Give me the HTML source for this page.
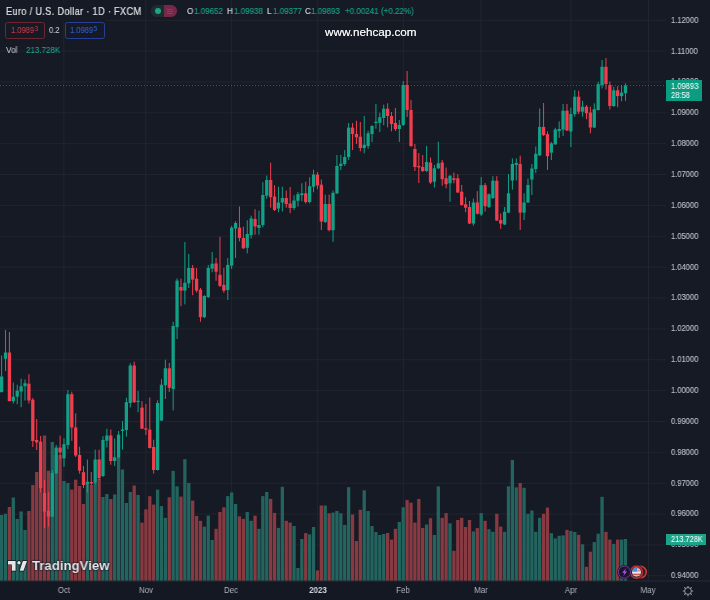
<!DOCTYPE html>
<html><head><meta charset="utf-8">
<style>
html,body{margin:0;padding:0;}
body{width:710px;height:600px;background:#161a25;position:relative;overflow:hidden;font-family:"Liberation Sans",sans-serif;}
.t{position:absolute;white-space:nowrap;line-height:1;transform-origin:0 0;will-change:transform;}
.pa{position:absolute;left:671.3px;font-size:8.8px;color:#c0c3cb;-webkit-text-stroke:0.1px currentColor;line-height:1;white-space:nowrap;transform-origin:0 0;transform:scaleX(0.86);will-change:transform;}
.ta{position:absolute;top:586px;font-size:9px;color:#b2b5be;line-height:1;white-space:nowrap;transform:translateX(-50%) scaleX(0.88);will-change:transform;}
</style></head><body>
<svg width="710" height="600" viewBox="0 0 710 600" style="position:absolute;left:0;top:0">
<rect x="0" y="575.27" width="666" height="1" fill="#21252f"/>
<rect x="0" y="544.41" width="666" height="1" fill="#21252f"/>
<rect x="0" y="513.55" width="666" height="1" fill="#21252f"/>
<rect x="0" y="482.68" width="666" height="1" fill="#21252f"/>
<rect x="0" y="451.82" width="666" height="1" fill="#21252f"/>
<rect x="0" y="420.96" width="666" height="1" fill="#21252f"/>
<rect x="0" y="390.09" width="666" height="1" fill="#21252f"/>
<rect x="0" y="359.23" width="666" height="1" fill="#21252f"/>
<rect x="0" y="328.37" width="666" height="1" fill="#21252f"/>
<rect x="0" y="297.50" width="666" height="1" fill="#21252f"/>
<rect x="0" y="266.64" width="666" height="1" fill="#21252f"/>
<rect x="0" y="235.77" width="666" height="1" fill="#21252f"/>
<rect x="0" y="204.91" width="666" height="1" fill="#21252f"/>
<rect x="0" y="174.05" width="666" height="1" fill="#21252f"/>
<rect x="0" y="143.18" width="666" height="1" fill="#21252f"/>
<rect x="0" y="112.32" width="666" height="1" fill="#21252f"/>
<rect x="0" y="81.46" width="666" height="1" fill="#21252f"/>
<rect x="0" y="50.59" width="666" height="1" fill="#21252f"/>
<rect x="0" y="19.73" width="666" height="1" fill="#21252f"/>
<rect x="63.30" y="0" width="1" height="581" fill="#21252f"/>
<rect x="145.30" y="0" width="1" height="581" fill="#21252f"/>
<rect x="231.10" y="0" width="1" height="581" fill="#21252f"/>
<rect x="317.20" y="0" width="1" height="581" fill="#21252f"/>
<rect x="402.80" y="0" width="1" height="581" fill="#21252f"/>
<rect x="480.50" y="0" width="1" height="581" fill="#21252f"/>
<rect x="570.50" y="0" width="1" height="581" fill="#21252f"/>
<rect x="648.00" y="0" width="1" height="581" fill="#21252f"/>
<rect x="-0.03" y="515.00" width="3.3" height="66.00" fill="#23645f"/>
<rect x="3.87" y="513.80" width="3.3" height="67.20" fill="#23645f"/>
<rect x="7.76" y="507.00" width="3.3" height="74.00" fill="#873a41"/>
<rect x="11.66" y="497.50" width="3.3" height="83.50" fill="#23645f"/>
<rect x="15.56" y="519.00" width="3.3" height="62.00" fill="#23645f"/>
<rect x="19.46" y="511.50" width="3.3" height="69.50" fill="#23645f"/>
<rect x="23.36" y="530.00" width="3.3" height="51.00" fill="#23645f"/>
<rect x="27.26" y="511.00" width="3.3" height="70.00" fill="#873a41"/>
<rect x="31.16" y="485.00" width="3.3" height="96.00" fill="#873a41"/>
<rect x="35.06" y="472.00" width="3.3" height="109.00" fill="#873a41"/>
<rect x="38.96" y="450.00" width="3.3" height="131.00" fill="#873a41"/>
<rect x="42.85" y="435.50" width="3.3" height="145.50" fill="#873a41"/>
<rect x="46.75" y="470.70" width="3.3" height="110.30" fill="#873a41"/>
<rect x="50.65" y="442.00" width="3.3" height="139.00" fill="#23645f"/>
<rect x="54.55" y="455.00" width="3.3" height="126.00" fill="#23645f"/>
<rect x="58.45" y="455.00" width="3.3" height="126.00" fill="#873a41"/>
<rect x="62.35" y="481.00" width="3.3" height="100.00" fill="#23645f"/>
<rect x="66.25" y="483.00" width="3.3" height="98.00" fill="#23645f"/>
<rect x="70.15" y="489.60" width="3.3" height="91.40" fill="#873a41"/>
<rect x="74.05" y="479.70" width="3.3" height="101.30" fill="#873a41"/>
<rect x="77.95" y="486.00" width="3.3" height="95.00" fill="#873a41"/>
<rect x="81.84" y="504.00" width="3.3" height="77.00" fill="#873a41"/>
<rect x="85.74" y="484.00" width="3.3" height="97.00" fill="#23645f"/>
<rect x="89.64" y="485.00" width="3.3" height="96.00" fill="#873a41"/>
<rect x="93.54" y="483.00" width="3.3" height="98.00" fill="#23645f"/>
<rect x="97.44" y="479.00" width="3.3" height="102.00" fill="#873a41"/>
<rect x="101.34" y="497.00" width="3.3" height="84.00" fill="#23645f"/>
<rect x="105.24" y="494.00" width="3.3" height="87.00" fill="#23645f"/>
<rect x="109.14" y="499.00" width="3.3" height="82.00" fill="#873a41"/>
<rect x="113.04" y="494.50" width="3.3" height="86.50" fill="#23645f"/>
<rect x="116.94" y="457.00" width="3.3" height="124.00" fill="#23645f"/>
<rect x="120.83" y="469.50" width="3.3" height="111.50" fill="#23645f"/>
<rect x="124.73" y="503.00" width="3.3" height="78.00" fill="#23645f"/>
<rect x="128.63" y="492.00" width="3.3" height="89.00" fill="#23645f"/>
<rect x="132.53" y="485.50" width="3.3" height="95.50" fill="#873a41"/>
<rect x="136.43" y="495.00" width="3.3" height="86.00" fill="#23645f"/>
<rect x="140.33" y="522.60" width="3.3" height="58.40" fill="#873a41"/>
<rect x="144.23" y="509.40" width="3.3" height="71.60" fill="#873a41"/>
<rect x="148.13" y="496.20" width="3.3" height="84.80" fill="#873a41"/>
<rect x="152.03" y="504.60" width="3.3" height="76.40" fill="#873a41"/>
<rect x="155.93" y="489.60" width="3.3" height="91.40" fill="#23645f"/>
<rect x="159.82" y="506.10" width="3.3" height="74.90" fill="#23645f"/>
<rect x="163.72" y="517.80" width="3.3" height="63.20" fill="#23645f"/>
<rect x="167.62" y="497.30" width="3.3" height="83.70" fill="#873a41"/>
<rect x="171.52" y="470.90" width="3.3" height="110.10" fill="#23645f"/>
<rect x="175.42" y="486.30" width="3.3" height="94.70" fill="#23645f"/>
<rect x="179.32" y="496.60" width="3.3" height="84.40" fill="#873a41"/>
<rect x="183.22" y="459.20" width="3.3" height="121.80" fill="#23645f"/>
<rect x="187.12" y="483.00" width="3.3" height="98.00" fill="#23645f"/>
<rect x="191.02" y="500.60" width="3.3" height="80.40" fill="#873a41"/>
<rect x="194.92" y="516.00" width="3.3" height="65.00" fill="#873a41"/>
<rect x="198.81" y="520.80" width="3.3" height="60.20" fill="#873a41"/>
<rect x="202.71" y="526.60" width="3.3" height="54.40" fill="#23645f"/>
<rect x="206.61" y="515.60" width="3.3" height="65.40" fill="#23645f"/>
<rect x="210.51" y="540.00" width="3.3" height="41.00" fill="#23645f"/>
<rect x="214.41" y="528.80" width="3.3" height="52.20" fill="#873a41"/>
<rect x="218.31" y="512.00" width="3.3" height="69.00" fill="#873a41"/>
<rect x="222.21" y="507.30" width="3.3" height="73.70" fill="#873a41"/>
<rect x="226.11" y="496.10" width="3.3" height="84.90" fill="#23645f"/>
<rect x="230.01" y="492.40" width="3.3" height="88.60" fill="#23645f"/>
<rect x="233.91" y="504.00" width="3.3" height="77.00" fill="#23645f"/>
<rect x="237.81" y="516.30" width="3.3" height="64.70" fill="#873a41"/>
<rect x="241.70" y="518.90" width="3.3" height="62.10" fill="#873a41"/>
<rect x="245.60" y="512.00" width="3.3" height="69.00" fill="#23645f"/>
<rect x="249.50" y="520.80" width="3.3" height="60.20" fill="#23645f"/>
<rect x="253.40" y="515.70" width="3.3" height="65.30" fill="#873a41"/>
<rect x="257.30" y="528.80" width="3.3" height="52.20" fill="#23645f"/>
<rect x="261.20" y="496.10" width="3.3" height="84.90" fill="#23645f"/>
<rect x="265.10" y="492.00" width="3.3" height="89.00" fill="#23645f"/>
<rect x="269.00" y="498.90" width="3.3" height="82.10" fill="#873a41"/>
<rect x="272.90" y="512.90" width="3.3" height="68.10" fill="#873a41"/>
<rect x="276.80" y="527.90" width="3.3" height="53.10" fill="#23645f"/>
<rect x="280.69" y="486.80" width="3.3" height="94.20" fill="#23645f"/>
<rect x="284.59" y="520.80" width="3.3" height="60.20" fill="#873a41"/>
<rect x="288.49" y="522.60" width="3.3" height="58.40" fill="#873a41"/>
<rect x="292.39" y="526.00" width="3.3" height="55.00" fill="#23645f"/>
<rect x="296.29" y="568.00" width="3.3" height="13.00" fill="#23645f"/>
<rect x="300.19" y="539.00" width="3.3" height="42.00" fill="#23645f"/>
<rect x="304.09" y="533.10" width="3.3" height="47.90" fill="#873a41"/>
<rect x="307.99" y="534.40" width="3.3" height="46.60" fill="#23645f"/>
<rect x="311.89" y="527.00" width="3.3" height="54.00" fill="#23645f"/>
<rect x="315.79" y="570.40" width="3.3" height="10.60" fill="#873a41"/>
<rect x="319.68" y="505.50" width="3.3" height="75.50" fill="#873a41"/>
<rect x="323.58" y="505.50" width="3.3" height="75.50" fill="#23645f"/>
<rect x="327.48" y="513.30" width="3.3" height="67.70" fill="#873a41"/>
<rect x="331.38" y="512.60" width="3.3" height="68.40" fill="#23645f"/>
<rect x="335.28" y="511.00" width="3.3" height="70.00" fill="#23645f"/>
<rect x="339.18" y="513.30" width="3.3" height="67.70" fill="#23645f"/>
<rect x="343.08" y="525.00" width="3.3" height="56.00" fill="#23645f"/>
<rect x="346.98" y="487.20" width="3.3" height="93.80" fill="#23645f"/>
<rect x="350.88" y="514.40" width="3.3" height="66.60" fill="#873a41"/>
<rect x="354.78" y="541.00" width="3.3" height="40.00" fill="#873a41"/>
<rect x="358.67" y="509.80" width="3.3" height="71.20" fill="#873a41"/>
<rect x="362.57" y="490.30" width="3.3" height="90.70" fill="#23645f"/>
<rect x="366.47" y="511.00" width="3.3" height="70.00" fill="#23645f"/>
<rect x="370.37" y="526.00" width="3.3" height="55.00" fill="#23645f"/>
<rect x="374.27" y="532.00" width="3.3" height="49.00" fill="#23645f"/>
<rect x="378.17" y="535.00" width="3.3" height="46.00" fill="#23645f"/>
<rect x="382.07" y="534.00" width="3.3" height="47.00" fill="#23645f"/>
<rect x="385.97" y="533.00" width="3.3" height="48.00" fill="#873a41"/>
<rect x="389.87" y="539.60" width="3.3" height="41.40" fill="#873a41"/>
<rect x="393.77" y="528.80" width="3.3" height="52.20" fill="#873a41"/>
<rect x="397.66" y="521.90" width="3.3" height="59.10" fill="#23645f"/>
<rect x="401.56" y="507.30" width="3.3" height="73.70" fill="#23645f"/>
<rect x="405.46" y="499.90" width="3.3" height="81.10" fill="#873a41"/>
<rect x="409.36" y="502.70" width="3.3" height="78.30" fill="#873a41"/>
<rect x="413.26" y="522.60" width="3.3" height="58.40" fill="#873a41"/>
<rect x="417.16" y="498.90" width="3.3" height="82.10" fill="#873a41"/>
<rect x="421.06" y="527.90" width="3.3" height="53.10" fill="#873a41"/>
<rect x="424.96" y="524.50" width="3.3" height="56.50" fill="#23645f"/>
<rect x="428.86" y="518.20" width="3.3" height="62.80" fill="#873a41"/>
<rect x="432.76" y="535.00" width="3.3" height="46.00" fill="#23645f"/>
<rect x="436.65" y="486.40" width="3.3" height="94.60" fill="#23645f"/>
<rect x="440.55" y="517.80" width="3.3" height="63.20" fill="#873a41"/>
<rect x="444.45" y="513.10" width="3.3" height="67.90" fill="#873a41"/>
<rect x="448.35" y="523.30" width="3.3" height="57.70" fill="#23645f"/>
<rect x="452.25" y="550.80" width="3.3" height="30.20" fill="#873a41"/>
<rect x="456.15" y="520.00" width="3.3" height="61.00" fill="#873a41"/>
<rect x="460.05" y="517.80" width="3.3" height="63.20" fill="#873a41"/>
<rect x="463.95" y="527.00" width="3.3" height="54.00" fill="#873a41"/>
<rect x="467.85" y="520.00" width="3.3" height="61.00" fill="#873a41"/>
<rect x="471.75" y="531.40" width="3.3" height="49.60" fill="#23645f"/>
<rect x="475.64" y="528.10" width="3.3" height="52.90" fill="#873a41"/>
<rect x="479.54" y="513.10" width="3.3" height="67.90" fill="#23645f"/>
<rect x="483.44" y="520.80" width="3.3" height="60.20" fill="#873a41"/>
<rect x="487.34" y="529.20" width="3.3" height="51.80" fill="#23645f"/>
<rect x="491.24" y="531.80" width="3.3" height="49.20" fill="#23645f"/>
<rect x="495.14" y="513.80" width="3.3" height="67.20" fill="#873a41"/>
<rect x="499.04" y="526.60" width="3.3" height="54.40" fill="#873a41"/>
<rect x="502.94" y="531.80" width="3.3" height="49.20" fill="#23645f"/>
<rect x="506.84" y="486.30" width="3.3" height="94.70" fill="#23645f"/>
<rect x="510.74" y="459.90" width="3.3" height="121.10" fill="#23645f"/>
<rect x="514.63" y="487.40" width="3.3" height="93.60" fill="#23645f"/>
<rect x="518.53" y="483.00" width="3.3" height="98.00" fill="#873a41"/>
<rect x="522.43" y="487.80" width="3.3" height="93.20" fill="#23645f"/>
<rect x="526.33" y="513.80" width="3.3" height="67.20" fill="#23645f"/>
<rect x="530.23" y="510.50" width="3.3" height="70.50" fill="#23645f"/>
<rect x="534.13" y="531.80" width="3.3" height="49.20" fill="#23645f"/>
<rect x="538.03" y="517.80" width="3.3" height="63.20" fill="#23645f"/>
<rect x="541.93" y="513.80" width="3.3" height="67.20" fill="#873a41"/>
<rect x="545.83" y="507.60" width="3.3" height="73.40" fill="#873a41"/>
<rect x="549.73" y="533.20" width="3.3" height="47.80" fill="#23645f"/>
<rect x="553.62" y="538.40" width="3.3" height="42.60" fill="#23645f"/>
<rect x="557.52" y="535.80" width="3.3" height="45.20" fill="#23645f"/>
<rect x="561.42" y="535.40" width="3.3" height="45.60" fill="#23645f"/>
<rect x="565.32" y="529.80" width="3.3" height="51.20" fill="#873a41"/>
<rect x="569.22" y="531.00" width="3.3" height="50.00" fill="#23645f"/>
<rect x="573.12" y="532.00" width="3.3" height="49.00" fill="#23645f"/>
<rect x="577.02" y="534.80" width="3.3" height="46.20" fill="#873a41"/>
<rect x="580.92" y="544.30" width="3.3" height="36.70" fill="#23645f"/>
<rect x="584.82" y="566.80" width="3.3" height="14.20" fill="#873a41"/>
<rect x="588.72" y="551.70" width="3.3" height="29.30" fill="#873a41"/>
<rect x="592.61" y="542.10" width="3.3" height="38.90" fill="#23645f"/>
<rect x="596.51" y="533.70" width="3.3" height="47.30" fill="#23645f"/>
<rect x="600.41" y="496.80" width="3.3" height="84.20" fill="#23645f"/>
<rect x="604.31" y="531.90" width="3.3" height="49.10" fill="#873a41"/>
<rect x="608.21" y="539.60" width="3.3" height="41.40" fill="#873a41"/>
<rect x="612.11" y="543.90" width="3.3" height="37.10" fill="#23645f"/>
<rect x="616.01" y="539.60" width="3.3" height="41.40" fill="#873a41"/>
<rect x="619.91" y="539.60" width="3.3" height="41.40" fill="#23645f"/>
<rect x="623.81" y="539.00" width="3.3" height="42.00" fill="#23645f"/>
<line x1="0" y1="85.5" x2="666" y2="85.5" stroke="#12a086" stroke-width="1" stroke-dasharray="1 2" opacity="0.6"/>
<rect x="1.12" y="355.50" width="1" height="36.70" fill="#12a086"/>
<rect x="-0.03" y="376.50" width="3.3" height="15.70" fill="#12a086"/>
<rect x="5.02" y="330.00" width="1" height="41.00" fill="#12a086"/>
<rect x="3.87" y="352.50" width="3.3" height="6.30" fill="#12a086"/>
<rect x="8.91" y="332.00" width="1" height="69.20" fill="#f03e4e"/>
<rect x="7.76" y="352.50" width="3.3" height="48.70" fill="#f03e4e"/>
<rect x="12.81" y="382.50" width="1" height="21.00" fill="#12a086"/>
<rect x="11.66" y="396.70" width="3.3" height="4.50" fill="#12a086"/>
<rect x="16.71" y="384.70" width="1" height="19.50" fill="#12a086"/>
<rect x="15.56" y="390.70" width="3.3" height="6.00" fill="#12a086"/>
<rect x="20.61" y="378.70" width="1" height="28.50" fill="#12a086"/>
<rect x="19.46" y="386.20" width="3.3" height="5.30" fill="#12a086"/>
<rect x="24.51" y="379.50" width="1" height="21.00" fill="#12a086"/>
<rect x="23.36" y="383.20" width="3.3" height="3.00" fill="#12a086"/>
<rect x="28.41" y="374.20" width="1" height="29.30" fill="#f03e4e"/>
<rect x="27.26" y="383.70" width="3.3" height="16.80" fill="#f03e4e"/>
<rect x="32.31" y="398.00" width="1" height="49.00" fill="#f03e4e"/>
<rect x="31.16" y="399.70" width="3.3" height="41.30" fill="#f03e4e"/>
<rect x="36.21" y="419.00" width="1" height="31.00" fill="#f03e4e"/>
<rect x="35.06" y="440.00" width="3.3" height="2.40" fill="#f03e4e"/>
<rect x="40.11" y="436.00" width="1" height="56.50" fill="#f03e4e"/>
<rect x="38.96" y="441.70" width="3.3" height="46.30" fill="#f03e4e"/>
<rect x="44.00" y="480.00" width="1" height="48.00" fill="#f03e4e"/>
<rect x="42.85" y="493.00" width="3.3" height="18.70" fill="#f03e4e"/>
<rect x="47.90" y="491.70" width="1" height="35.00" fill="#f03e4e"/>
<rect x="46.75" y="510.80" width="3.3" height="5.90" fill="#f03e4e"/>
<rect x="51.80" y="470.00" width="1" height="47.00" fill="#12a086"/>
<rect x="50.65" y="473.00" width="3.3" height="43.70" fill="#12a086"/>
<rect x="55.70" y="445.00" width="1" height="29.00" fill="#12a086"/>
<rect x="54.55" y="447.50" width="3.3" height="25.80" fill="#12a086"/>
<rect x="59.60" y="435.60" width="1" height="23.40" fill="#f03e4e"/>
<rect x="58.45" y="447.60" width="3.3" height="4.80" fill="#f03e4e"/>
<rect x="63.50" y="438.30" width="1" height="28.40" fill="#12a086"/>
<rect x="62.35" y="444.20" width="3.3" height="14.10" fill="#12a086"/>
<rect x="67.40" y="390.00" width="1" height="59.20" fill="#12a086"/>
<rect x="66.25" y="394.20" width="3.3" height="50.80" fill="#12a086"/>
<rect x="71.30" y="391.70" width="1" height="49.10" fill="#f03e4e"/>
<rect x="70.15" y="394.20" width="3.3" height="33.30" fill="#f03e4e"/>
<rect x="75.20" y="413.30" width="1" height="43.70" fill="#f03e4e"/>
<rect x="74.05" y="427.50" width="3.3" height="28.00" fill="#f03e4e"/>
<rect x="79.10" y="446.70" width="1" height="27.00" fill="#f03e4e"/>
<rect x="77.95" y="455.00" width="3.3" height="15.70" fill="#f03e4e"/>
<rect x="83.00" y="466.00" width="1" height="22.00" fill="#f03e4e"/>
<rect x="81.84" y="472.20" width="3.3" height="12.80" fill="#f03e4e"/>
<rect x="86.89" y="459.50" width="1" height="33.00" fill="#12a086"/>
<rect x="85.74" y="481.70" width="3.3" height="2.50" fill="#12a086"/>
<rect x="90.79" y="472.00" width="1" height="13.00" fill="#f03e4e"/>
<rect x="89.64" y="482.00" width="3.3" height="1.50" fill="#f03e4e"/>
<rect x="94.69" y="449.70" width="1" height="34.30" fill="#12a086"/>
<rect x="93.54" y="459.50" width="3.3" height="23.20" fill="#12a086"/>
<rect x="98.59" y="449.70" width="1" height="30.30" fill="#f03e4e"/>
<rect x="97.44" y="459.50" width="3.3" height="18.70" fill="#f03e4e"/>
<rect x="102.49" y="436.20" width="1" height="40.80" fill="#12a086"/>
<rect x="101.34" y="440.00" width="3.3" height="36.00" fill="#12a086"/>
<rect x="106.39" y="428.70" width="1" height="18.80" fill="#12a086"/>
<rect x="105.24" y="435.50" width="3.3" height="5.20" fill="#12a086"/>
<rect x="110.29" y="429.50" width="1" height="35.20" fill="#f03e4e"/>
<rect x="109.14" y="435.50" width="3.3" height="25.50" fill="#f03e4e"/>
<rect x="114.19" y="438.50" width="1" height="27.70" fill="#12a086"/>
<rect x="113.04" y="457.20" width="3.3" height="3.80" fill="#12a086"/>
<rect x="118.09" y="431.00" width="1" height="27.00" fill="#12a086"/>
<rect x="116.94" y="434.70" width="3.3" height="22.50" fill="#12a086"/>
<rect x="121.98" y="421.00" width="1" height="28.70" fill="#12a086"/>
<rect x="120.83" y="429.50" width="3.3" height="1.50" fill="#12a086"/>
<rect x="125.88" y="397.70" width="1" height="39.00" fill="#12a086"/>
<rect x="124.73" y="402.20" width="3.3" height="27.80" fill="#12a086"/>
<rect x="129.78" y="363.20" width="1" height="44.30" fill="#12a086"/>
<rect x="128.63" y="365.50" width="3.3" height="37.50" fill="#12a086"/>
<rect x="133.68" y="361.70" width="1" height="41.30" fill="#f03e4e"/>
<rect x="132.53" y="365.50" width="3.3" height="36.70" fill="#f03e4e"/>
<rect x="137.58" y="391.00" width="1" height="21.20" fill="#12a086"/>
<rect x="136.43" y="400.80" width="3.3" height="1.20" fill="#12a086"/>
<rect x="141.48" y="401.20" width="1" height="27.80" fill="#f03e4e"/>
<rect x="140.33" y="407.60" width="3.3" height="21.10" fill="#f03e4e"/>
<rect x="145.38" y="404.00" width="1" height="31.00" fill="#f03e4e"/>
<rect x="144.23" y="428.30" width="3.3" height="1.30" fill="#f03e4e"/>
<rect x="149.28" y="397.50" width="1" height="51.00" fill="#f03e4e"/>
<rect x="148.13" y="429.60" width="3.3" height="18.40" fill="#f03e4e"/>
<rect x="153.18" y="439.70" width="1" height="34.00" fill="#f03e4e"/>
<rect x="152.03" y="447.00" width="3.3" height="23.00" fill="#f03e4e"/>
<rect x="157.08" y="400.30" width="1" height="70.20" fill="#12a086"/>
<rect x="155.93" y="403.00" width="3.3" height="67.00" fill="#12a086"/>
<rect x="160.97" y="379.20" width="1" height="41.80" fill="#12a086"/>
<rect x="159.82" y="384.70" width="3.3" height="35.80" fill="#12a086"/>
<rect x="164.87" y="359.70" width="1" height="39.30" fill="#12a086"/>
<rect x="163.72" y="368.30" width="3.3" height="16.90" fill="#12a086"/>
<rect x="168.77" y="363.00" width="1" height="29.00" fill="#f03e4e"/>
<rect x="167.62" y="368.30" width="3.3" height="19.50" fill="#f03e4e"/>
<rect x="172.67" y="321.80" width="1" height="88.60" fill="#12a086"/>
<rect x="171.52" y="326.00" width="3.3" height="63.00" fill="#12a086"/>
<rect x="176.57" y="278.40" width="1" height="60.60" fill="#12a086"/>
<rect x="175.42" y="280.60" width="3.3" height="46.60" fill="#12a086"/>
<rect x="180.47" y="278.70" width="1" height="27.50" fill="#f03e4e"/>
<rect x="179.32" y="287.00" width="3.3" height="3.60" fill="#f03e4e"/>
<rect x="184.37" y="242.00" width="1" height="62.40" fill="#12a086"/>
<rect x="183.22" y="282.80" width="3.3" height="7.80" fill="#12a086"/>
<rect x="188.27" y="254.00" width="1" height="34.00" fill="#12a086"/>
<rect x="187.12" y="268.00" width="3.3" height="15.30" fill="#12a086"/>
<rect x="192.17" y="265.00" width="1" height="30.20" fill="#f03e4e"/>
<rect x="191.02" y="268.00" width="3.3" height="11.60" fill="#f03e4e"/>
<rect x="196.07" y="268.00" width="1" height="24.50" fill="#f03e4e"/>
<rect x="194.92" y="278.70" width="3.3" height="11.90" fill="#f03e4e"/>
<rect x="199.97" y="288.00" width="1" height="33.80" fill="#f03e4e"/>
<rect x="198.81" y="289.70" width="3.3" height="27.50" fill="#f03e4e"/>
<rect x="203.86" y="295.20" width="1" height="22.80" fill="#12a086"/>
<rect x="202.71" y="296.00" width="3.3" height="21.20" fill="#12a086"/>
<rect x="207.76" y="265.00" width="1" height="33.00" fill="#12a086"/>
<rect x="206.61" y="268.00" width="3.3" height="29.00" fill="#12a086"/>
<rect x="211.66" y="252.00" width="1" height="20.30" fill="#12a086"/>
<rect x="210.51" y="263.70" width="3.3" height="4.90" fill="#12a086"/>
<rect x="215.56" y="258.00" width="1" height="22.80" fill="#f03e4e"/>
<rect x="214.41" y="263.40" width="3.3" height="8.30" fill="#f03e4e"/>
<rect x="219.46" y="236.80" width="1" height="50.20" fill="#f03e4e"/>
<rect x="218.31" y="274.80" width="3.3" height="11.00" fill="#f03e4e"/>
<rect x="223.36" y="268.00" width="1" height="24.80" fill="#f03e4e"/>
<rect x="222.21" y="284.90" width="3.3" height="5.70" fill="#f03e4e"/>
<rect x="227.26" y="258.00" width="1" height="42.00" fill="#12a086"/>
<rect x="226.11" y="264.90" width="3.3" height="25.10" fill="#12a086"/>
<rect x="231.16" y="225.80" width="1" height="43.20" fill="#12a086"/>
<rect x="230.01" y="227.60" width="3.3" height="38.00" fill="#12a086"/>
<rect x="235.06" y="221.20" width="1" height="36.80" fill="#12a086"/>
<rect x="233.91" y="223.00" width="3.3" height="5.50" fill="#12a086"/>
<rect x="238.96" y="206.50" width="1" height="34.90" fill="#f03e4e"/>
<rect x="237.81" y="227.60" width="3.3" height="10.40" fill="#f03e4e"/>
<rect x="242.85" y="226.70" width="1" height="22.30" fill="#f03e4e"/>
<rect x="241.70" y="238.00" width="3.3" height="10.30" fill="#f03e4e"/>
<rect x="246.75" y="220.30" width="1" height="33.00" fill="#12a086"/>
<rect x="245.60" y="234.00" width="3.3" height="13.80" fill="#12a086"/>
<rect x="250.65" y="215.70" width="1" height="22.90" fill="#12a086"/>
<rect x="249.50" y="218.40" width="3.3" height="16.60" fill="#12a086"/>
<rect x="254.55" y="209.20" width="1" height="25.50" fill="#f03e4e"/>
<rect x="253.40" y="219.00" width="3.3" height="7.50" fill="#f03e4e"/>
<rect x="258.45" y="210.70" width="1" height="24.00" fill="#12a086"/>
<rect x="257.30" y="225.00" width="3.3" height="3.00" fill="#12a086"/>
<rect x="262.35" y="182.20" width="1" height="45.00" fill="#12a086"/>
<rect x="261.20" y="195.00" width="3.3" height="30.00" fill="#12a086"/>
<rect x="266.25" y="175.50" width="1" height="23.20" fill="#12a086"/>
<rect x="265.10" y="180.00" width="3.3" height="15.70" fill="#12a086"/>
<rect x="270.15" y="162.70" width="1" height="45.00" fill="#f03e4e"/>
<rect x="269.00" y="180.00" width="3.3" height="17.20" fill="#f03e4e"/>
<rect x="274.05" y="185.20" width="1" height="25.80" fill="#f03e4e"/>
<rect x="272.90" y="196.50" width="3.3" height="13.50" fill="#f03e4e"/>
<rect x="277.94" y="186.70" width="1" height="25.50" fill="#12a086"/>
<rect x="276.80" y="202.50" width="3.3" height="6.00" fill="#12a086"/>
<rect x="281.84" y="186.70" width="1" height="24.80" fill="#12a086"/>
<rect x="280.69" y="198.00" width="3.3" height="4.50" fill="#12a086"/>
<rect x="285.74" y="190.50" width="1" height="17.20" fill="#f03e4e"/>
<rect x="284.59" y="198.00" width="3.3" height="6.00" fill="#f03e4e"/>
<rect x="289.64" y="187.00" width="1" height="26.20" fill="#f03e4e"/>
<rect x="288.49" y="203.50" width="3.3" height="4.50" fill="#f03e4e"/>
<rect x="293.54" y="195.20" width="1" height="14.80" fill="#12a086"/>
<rect x="292.39" y="200.50" width="3.3" height="7.50" fill="#12a086"/>
<rect x="297.44" y="192.00" width="1" height="14.50" fill="#12a086"/>
<rect x="296.29" y="194.20" width="3.3" height="6.60" fill="#12a086"/>
<rect x="301.34" y="183.20" width="1" height="18.00" fill="#12a086"/>
<rect x="300.19" y="193.30" width="3.3" height="1.90" fill="#12a086"/>
<rect x="305.24" y="181.70" width="1" height="21.80" fill="#f03e4e"/>
<rect x="304.09" y="193.30" width="3.3" height="8.70" fill="#f03e4e"/>
<rect x="309.14" y="177.20" width="1" height="26.30" fill="#12a086"/>
<rect x="307.99" y="186.20" width="3.3" height="15.80" fill="#12a086"/>
<rect x="313.04" y="169.70" width="1" height="22.50" fill="#12a086"/>
<rect x="311.89" y="174.50" width="3.3" height="12.20" fill="#12a086"/>
<rect x="316.94" y="172.00" width="1" height="17.20" fill="#f03e4e"/>
<rect x="315.79" y="174.50" width="3.3" height="11.00" fill="#f03e4e"/>
<rect x="320.83" y="179.50" width="1" height="50.50" fill="#f03e4e"/>
<rect x="319.68" y="184.70" width="3.3" height="36.80" fill="#f03e4e"/>
<rect x="324.73" y="194.60" width="1" height="28.40" fill="#12a086"/>
<rect x="323.58" y="204.00" width="3.3" height="18.00" fill="#12a086"/>
<rect x="328.63" y="194.60" width="1" height="36.70" fill="#f03e4e"/>
<rect x="327.48" y="204.00" width="3.3" height="26.20" fill="#f03e4e"/>
<rect x="332.53" y="190.50" width="1" height="51.30" fill="#12a086"/>
<rect x="331.38" y="192.80" width="3.3" height="37.40" fill="#12a086"/>
<rect x="336.43" y="155.00" width="1" height="39.00" fill="#12a086"/>
<rect x="335.28" y="166.00" width="3.3" height="27.40" fill="#12a086"/>
<rect x="340.33" y="155.00" width="1" height="15.00" fill="#12a086"/>
<rect x="339.18" y="163.60" width="3.3" height="2.40" fill="#12a086"/>
<rect x="344.23" y="150.00" width="1" height="16.00" fill="#12a086"/>
<rect x="343.08" y="157.00" width="3.3" height="7.00" fill="#12a086"/>
<rect x="348.13" y="123.00" width="1" height="37.00" fill="#12a086"/>
<rect x="346.98" y="127.60" width="3.3" height="29.40" fill="#12a086"/>
<rect x="352.03" y="123.00" width="1" height="27.00" fill="#f03e4e"/>
<rect x="350.88" y="127.60" width="3.3" height="6.40" fill="#f03e4e"/>
<rect x="355.93" y="120.70" width="1" height="23.30" fill="#f03e4e"/>
<rect x="354.78" y="134.00" width="3.3" height="3.30" fill="#f03e4e"/>
<rect x="359.82" y="122.00" width="1" height="29.30" fill="#f03e4e"/>
<rect x="358.67" y="136.70" width="3.3" height="11.30" fill="#f03e4e"/>
<rect x="363.72" y="116.00" width="1" height="37.30" fill="#12a086"/>
<rect x="362.57" y="144.70" width="3.3" height="3.30" fill="#12a086"/>
<rect x="367.62" y="130.70" width="1" height="18.00" fill="#12a086"/>
<rect x="366.47" y="133.30" width="3.3" height="12.70" fill="#12a086"/>
<rect x="371.52" y="125.30" width="1" height="16.70" fill="#12a086"/>
<rect x="370.37" y="126.00" width="3.3" height="8.00" fill="#12a086"/>
<rect x="375.42" y="104.00" width="1" height="24.70" fill="#12a086"/>
<rect x="374.27" y="121.70" width="3.3" height="1.30" fill="#12a086"/>
<rect x="379.32" y="112.70" width="1" height="19.30" fill="#12a086"/>
<rect x="378.17" y="117.30" width="3.3" height="5.40" fill="#12a086"/>
<rect x="383.22" y="104.70" width="1" height="20.60" fill="#12a086"/>
<rect x="382.07" y="108.70" width="3.3" height="9.30" fill="#12a086"/>
<rect x="387.12" y="103.30" width="1" height="24.00" fill="#f03e4e"/>
<rect x="385.97" y="108.70" width="3.3" height="7.30" fill="#f03e4e"/>
<rect x="391.02" y="112.00" width="1" height="19.30" fill="#f03e4e"/>
<rect x="389.87" y="116.00" width="3.3" height="8.00" fill="#f03e4e"/>
<rect x="394.92" y="108.00" width="1" height="23.00" fill="#f03e4e"/>
<rect x="393.77" y="123.00" width="3.3" height="6.00" fill="#f03e4e"/>
<rect x="398.81" y="120.00" width="1" height="22.00" fill="#12a086"/>
<rect x="397.66" y="125.00" width="3.3" height="4.00" fill="#12a086"/>
<rect x="402.71" y="81.00" width="1" height="45.00" fill="#12a086"/>
<rect x="401.56" y="85.00" width="3.3" height="40.00" fill="#12a086"/>
<rect x="406.61" y="71.00" width="1" height="46.00" fill="#f03e4e"/>
<rect x="405.46" y="85.00" width="3.3" height="25.00" fill="#f03e4e"/>
<rect x="410.51" y="100.00" width="1" height="47.00" fill="#f03e4e"/>
<rect x="409.36" y="110.00" width="3.3" height="36.00" fill="#f03e4e"/>
<rect x="414.41" y="144.00" width="1" height="27.00" fill="#f03e4e"/>
<rect x="413.26" y="149.00" width="3.3" height="18.00" fill="#f03e4e"/>
<rect x="418.31" y="153.00" width="1" height="30.00" fill="#f03e4e"/>
<rect x="417.16" y="166.00" width="3.3" height="1.40" fill="#f03e4e"/>
<rect x="422.21" y="155.00" width="1" height="17.00" fill="#f03e4e"/>
<rect x="421.06" y="167.00" width="3.3" height="4.00" fill="#f03e4e"/>
<rect x="426.11" y="146.00" width="1" height="26.00" fill="#12a086"/>
<rect x="424.96" y="162.00" width="3.3" height="9.00" fill="#12a086"/>
<rect x="430.01" y="157.50" width="1" height="26.50" fill="#f03e4e"/>
<rect x="428.86" y="162.50" width="3.3" height="20.00" fill="#f03e4e"/>
<rect x="433.91" y="165.00" width="1" height="22.50" fill="#12a086"/>
<rect x="432.76" y="168.30" width="3.3" height="13.40" fill="#12a086"/>
<rect x="437.80" y="141.70" width="1" height="27.30" fill="#12a086"/>
<rect x="436.65" y="163.30" width="3.3" height="5.00" fill="#12a086"/>
<rect x="441.70" y="160.00" width="1" height="25.80" fill="#f03e4e"/>
<rect x="440.55" y="162.50" width="3.3" height="16.70" fill="#f03e4e"/>
<rect x="445.60" y="167.50" width="1" height="20.80" fill="#f03e4e"/>
<rect x="444.45" y="178.30" width="3.3" height="5.90" fill="#f03e4e"/>
<rect x="449.50" y="175.00" width="1" height="26.70" fill="#12a086"/>
<rect x="448.35" y="175.80" width="3.3" height="7.50" fill="#12a086"/>
<rect x="453.40" y="172.50" width="1" height="10.80" fill="#f03e4e"/>
<rect x="452.25" y="178.30" width="3.3" height="1.70" fill="#f03e4e"/>
<rect x="457.30" y="174.20" width="1" height="18.80" fill="#f03e4e"/>
<rect x="456.15" y="178.30" width="3.3" height="14.20" fill="#f03e4e"/>
<rect x="461.20" y="185.00" width="1" height="20.50" fill="#f03e4e"/>
<rect x="460.05" y="191.70" width="3.3" height="13.30" fill="#f03e4e"/>
<rect x="465.10" y="197.20" width="1" height="15.00" fill="#f03e4e"/>
<rect x="463.95" y="204.30" width="3.3" height="3.40" fill="#f03e4e"/>
<rect x="469.00" y="201.00" width="1" height="23.00" fill="#f03e4e"/>
<rect x="467.85" y="207.00" width="3.3" height="16.50" fill="#f03e4e"/>
<rect x="472.89" y="198.70" width="1" height="27.00" fill="#12a086"/>
<rect x="471.75" y="202.50" width="3.3" height="21.00" fill="#12a086"/>
<rect x="476.79" y="191.20" width="1" height="23.30" fill="#f03e4e"/>
<rect x="475.64" y="202.50" width="3.3" height="11.20" fill="#f03e4e"/>
<rect x="480.69" y="177.00" width="1" height="39.00" fill="#12a086"/>
<rect x="479.54" y="185.20" width="3.3" height="29.30" fill="#12a086"/>
<rect x="484.59" y="183.00" width="1" height="28.50" fill="#f03e4e"/>
<rect x="483.44" y="185.20" width="3.3" height="21.00" fill="#f03e4e"/>
<rect x="488.49" y="193.50" width="1" height="14.50" fill="#12a086"/>
<rect x="487.34" y="194.20" width="3.3" height="12.80" fill="#12a086"/>
<rect x="492.39" y="176.20" width="1" height="22.80" fill="#12a086"/>
<rect x="491.24" y="180.70" width="3.3" height="17.30" fill="#12a086"/>
<rect x="496.29" y="176.20" width="1" height="44.80" fill="#f03e4e"/>
<rect x="495.14" y="180.70" width="3.3" height="39.80" fill="#f03e4e"/>
<rect x="500.19" y="213.50" width="1" height="15.50" fill="#f03e4e"/>
<rect x="499.04" y="220.00" width="3.3" height="3.60" fill="#f03e4e"/>
<rect x="504.09" y="207.00" width="1" height="18.00" fill="#12a086"/>
<rect x="502.94" y="211.70" width="3.3" height="12.80" fill="#12a086"/>
<rect x="507.99" y="174.00" width="1" height="39.00" fill="#12a086"/>
<rect x="506.84" y="193.30" width="3.3" height="19.30" fill="#12a086"/>
<rect x="511.88" y="158.40" width="1" height="31.20" fill="#12a086"/>
<rect x="510.74" y="164.00" width="3.3" height="16.50" fill="#12a086"/>
<rect x="515.78" y="158.40" width="1" height="22.10" fill="#12a086"/>
<rect x="514.63" y="163.00" width="3.3" height="1.90" fill="#12a086"/>
<rect x="519.68" y="155.70" width="1" height="74.30" fill="#f03e4e"/>
<rect x="518.53" y="164.00" width="3.3" height="48.60" fill="#f03e4e"/>
<rect x="523.58" y="193.30" width="1" height="26.70" fill="#12a086"/>
<rect x="522.43" y="202.50" width="3.3" height="10.10" fill="#12a086"/>
<rect x="527.48" y="178.60" width="1" height="24.40" fill="#12a086"/>
<rect x="526.33" y="185.00" width="3.3" height="17.50" fill="#12a086"/>
<rect x="531.38" y="164.00" width="1" height="31.00" fill="#12a086"/>
<rect x="530.23" y="168.50" width="3.3" height="11.00" fill="#12a086"/>
<rect x="535.28" y="146.50" width="1" height="26.50" fill="#12a086"/>
<rect x="534.13" y="153.80" width="3.3" height="15.20" fill="#12a086"/>
<rect x="539.18" y="108.50" width="1" height="47.50" fill="#12a086"/>
<rect x="538.03" y="126.90" width="3.3" height="28.40" fill="#12a086"/>
<rect x="543.08" y="103.00" width="1" height="33.00" fill="#f03e4e"/>
<rect x="541.93" y="126.90" width="3.3" height="8.20" fill="#f03e4e"/>
<rect x="546.98" y="131.50" width="1" height="38.50" fill="#f03e4e"/>
<rect x="545.83" y="134.20" width="3.3" height="22.00" fill="#f03e4e"/>
<rect x="550.88" y="142.00" width="1" height="18.00" fill="#12a086"/>
<rect x="549.73" y="143.40" width="3.3" height="9.20" fill="#12a086"/>
<rect x="554.77" y="127.80" width="1" height="17.20" fill="#12a086"/>
<rect x="553.62" y="129.60" width="3.3" height="14.70" fill="#12a086"/>
<rect x="558.67" y="121.40" width="1" height="16.50" fill="#12a086"/>
<rect x="557.52" y="129.00" width="3.3" height="2.00" fill="#12a086"/>
<rect x="562.57" y="104.00" width="1" height="32.00" fill="#12a086"/>
<rect x="561.42" y="110.70" width="3.3" height="18.90" fill="#12a086"/>
<rect x="566.47" y="104.00" width="1" height="27.00" fill="#f03e4e"/>
<rect x="565.32" y="110.70" width="3.3" height="19.80" fill="#f03e4e"/>
<rect x="570.37" y="107.60" width="1" height="39.40" fill="#12a086"/>
<rect x="569.22" y="114.00" width="3.3" height="17.50" fill="#12a086"/>
<rect x="574.27" y="90.00" width="1" height="26.70" fill="#12a086"/>
<rect x="573.12" y="96.70" width="3.3" height="17.50" fill="#12a086"/>
<rect x="578.17" y="90.80" width="1" height="23.40" fill="#f03e4e"/>
<rect x="577.02" y="96.70" width="3.3" height="15.00" fill="#f03e4e"/>
<rect x="582.07" y="100.80" width="1" height="15.90" fill="#12a086"/>
<rect x="580.92" y="106.70" width="3.3" height="5.00" fill="#12a086"/>
<rect x="585.97" y="105.00" width="1" height="14.20" fill="#f03e4e"/>
<rect x="584.82" y="106.70" width="3.3" height="6.60" fill="#f03e4e"/>
<rect x="589.87" y="106.70" width="1" height="26.60" fill="#f03e4e"/>
<rect x="588.72" y="112.50" width="3.3" height="15.00" fill="#f03e4e"/>
<rect x="593.76" y="103.30" width="1" height="24.70" fill="#12a086"/>
<rect x="592.61" y="109.20" width="3.3" height="18.30" fill="#12a086"/>
<rect x="597.66" y="81.70" width="1" height="28.80" fill="#12a086"/>
<rect x="596.51" y="84.20" width="3.3" height="25.80" fill="#12a086"/>
<rect x="601.56" y="60.00" width="1" height="28.40" fill="#12a086"/>
<rect x="600.41" y="66.80" width="3.3" height="18.20" fill="#12a086"/>
<rect x="605.46" y="58.00" width="1" height="31.50" fill="#f03e4e"/>
<rect x="604.31" y="66.80" width="3.3" height="17.20" fill="#f03e4e"/>
<rect x="609.36" y="81.50" width="1" height="28.00" fill="#f03e4e"/>
<rect x="608.21" y="85.00" width="3.3" height="21.00" fill="#f03e4e"/>
<rect x="613.26" y="86.80" width="1" height="20.20" fill="#12a086"/>
<rect x="612.11" y="90.30" width="3.3" height="15.70" fill="#12a086"/>
<rect x="617.16" y="86.20" width="1" height="21.00" fill="#f03e4e"/>
<rect x="616.01" y="90.30" width="3.3" height="5.80" fill="#f03e4e"/>
<rect x="621.06" y="85.00" width="1" height="16.30" fill="#12a086"/>
<rect x="619.91" y="92.60" width="3.3" height="3.50" fill="#12a086"/>
<rect x="624.96" y="83.30" width="1" height="17.50" fill="#12a086"/>
<rect x="623.81" y="85.50" width="3.3" height="7.70" fill="#12a086"/>
<rect x="0" y="581" width="710" height="19" fill="#141823"/>
<rect x="0" y="580.5" width="710" height="1" fill="#262a35"/>
</svg>
<div class="pa" style="top:571.2px">0.94000</div>
<div class="pa" style="top:540.3px">0.95000</div>
<div class="pa" style="top:509.4px">0.96000</div>
<div class="pa" style="top:478.6px">0.97000</div>
<div class="pa" style="top:447.7px">0.98000</div>
<div class="pa" style="top:416.9px">0.99000</div>
<div class="pa" style="top:386.0px">1.00000</div>
<div class="pa" style="top:355.1px">1.01000</div>
<div class="pa" style="top:324.3px">1.02000</div>
<div class="pa" style="top:293.4px">1.03000</div>
<div class="pa" style="top:262.5px">1.04000</div>
<div class="pa" style="top:231.7px">1.05000</div>
<div class="pa" style="top:200.8px">1.06000</div>
<div class="pa" style="top:169.9px">1.07000</div>
<div class="pa" style="top:139.1px">1.08000</div>
<div class="pa" style="top:108.2px">1.09000</div>
<div class="pa" style="top:77.4px">1.10000</div>
<div class="pa" style="top:46.5px">1.11000</div>
<div class="pa" style="top:15.6px">1.12000</div>
<div class="ta" style="left:63.5px">Oct</div>
<div class="ta" style="left:145.8px">Nov</div>
<div class="ta" style="left:230.9px">Dec</div>
<div class="ta" style="left:317.7px;font-weight:bold;color:#d1d4dc">2023</div>
<div class="ta" style="left:403.3px">Feb</div>
<div class="ta" style="left:481.0px">Mar</div>
<div class="ta" style="left:571.0px">Apr</div>
<div class="ta" style="left:648.3px">May</div>

<div style="position:absolute;left:3px;top:3px;width:140px;height:16px;background:#161a25"></div>
<div style="position:absolute;left:0px;top:19px;width:106px;height:3px;background:#161a25"></div>
<div class="t" style="left:6.1px;top:6.2px;font-size:10.9px;color:#dfe1e6;letter-spacing:0.35px;transform:scaleX(0.85);-webkit-text-stroke:0.2px currentColor">Euro / U.S. Dollar · 1D · FXCM</div>
<div style="position:absolute;left:150.6px;top:5px;width:26px;height:12.2px;border-radius:6px;overflow:hidden;background:#3a2030">
  <div style="position:absolute;left:0;top:0;width:13px;height:12.2px;background:#1c2d2f"></div>
  <div style="position:absolute;left:4.1px;top:3.1px;width:6px;height:6px;border-radius:50%;background:#1aa58a"></div>
  <div style="position:absolute;left:13px;top:0;width:13px;height:12.2px;background:#762848"></div>
  <div style="position:absolute;left:16px;top:4px;width:6px;height:1px;background:#a83058"></div>
  <div style="position:absolute;left:16px;top:6px;width:6px;height:1px;background:#a83058"></div>
  <div style="position:absolute;left:16px;top:8px;width:6px;height:1px;background:#a83058"></div>
</div>
<div class="t" style="left:186.8px;top:7.3px;font-size:8.6px;transform:scaleX(0.93);-webkit-text-stroke:0.15px currentColor;color:#d1d4dc">O</div>
<div class="t" style="left:193.5px;top:7.3px;font-size:8.6px;transform:scaleX(0.93);-webkit-text-stroke:0.15px currentColor;color:#16a085">1.09652</div>
<div class="t" style="left:226.5px;top:7.3px;font-size:8.6px;transform:scaleX(0.93);-webkit-text-stroke:0.15px currentColor;color:#d1d4dc">H</div>
<div class="t" style="left:233.5px;top:7.3px;font-size:8.6px;transform:scaleX(0.93);-webkit-text-stroke:0.15px currentColor;color:#16a085">1.09938</div>
<div class="t" style="left:267px;top:7.3px;font-size:8.6px;transform:scaleX(0.93);-webkit-text-stroke:0.15px currentColor;color:#d1d4dc">L</div>
<div class="t" style="left:272.5px;top:7.3px;font-size:8.6px;transform:scaleX(0.93);-webkit-text-stroke:0.15px currentColor;color:#16a085">1.09377</div>
<div class="t" style="left:304.6px;top:7.3px;font-size:8.6px;transform:scaleX(0.93);-webkit-text-stroke:0.15px currentColor;color:#d1d4dc">C</div>
<div class="t" style="left:311px;top:7.3px;font-size:8.6px;transform:scaleX(0.93);-webkit-text-stroke:0.15px currentColor;color:#16a085">1.09893</div>
<div class="t" style="left:345px;top:7.3px;font-size:8.6px;transform:scaleX(0.93);-webkit-text-stroke:0.15px currentColor;color:#16a085">+0.00241</div>
<div class="t" style="left:380.5px;top:7.3px;font-size:8.6px;transform:scaleX(0.93);-webkit-text-stroke:0.15px currentColor;color:#16a085">(+0.22%)</div>
<div style="position:absolute;left:5.3px;top:22.3px;width:37.7px;height:14.3px;border:1px solid #6e2631;border-radius:2.5px"></div>
<div class="t" style="left:10.5px;top:26.3px;font-size:8.4px;color:#d83a4a;transform:scaleX(0.9)">1.0989<span style="font-size:7.2px;position:relative;top:-1.6px;margin-left:0.5px">3</span></div>
<div class="t" style="left:49.4px;top:26.4px;font-size:8.4px;color:#d1d4dc;transform:scaleX(0.9)">0.2</div>
<div style="position:absolute;left:64.9px;top:22.3px;width:37.9px;height:14.3px;border:1px solid #26409a;border-radius:2.5px"></div>
<div class="t" style="left:70px;top:26.3px;font-size:8.4px;color:#3560d8;transform:scaleX(0.9)">1.0989<span style="font-size:7.2px;position:relative;top:-1.6px;margin-left:0.5px">5</span></div>
<div class="t" style="left:6.1px;top:46px;font-size:8.6px;color:#d1d4dc;transform:scaleX(0.95)">Vol</div>
<div class="t" style="left:26.4px;top:46px;font-size:8.6px;color:#22ab94;transform:scaleX(0.93)">213.728K</div>
<div class="t" style="left:325.3px;top:26.1px;font-size:11.7px;color:#f0f0f0;text-shadow:0 0 0.4px #f0f0f0">www.nehcap.com</div>
<div style="position:absolute;left:665.8px;top:79.6px;width:36.4px;height:21.1px;background:#0b9c82"></div>
<div class="t" style="left:671.3px;top:81.6px;font-size:8.8px;color:#ffffff;transform:scaleX(0.86)">1.09893</div>
<div class="t" style="left:671.3px;top:91.2px;font-size:8.8px;color:#ffffff;transform:scaleX(0.86)">28:58</div>
<div style="position:absolute;left:666px;top:533.5px;width:40.4px;height:11.4px;background:#1ea38b"></div>
<div class="t" style="left:671px;top:535.4px;font-size:8.8px;color:#ffffff;transform:scaleX(0.845)">213.728K</div>
<svg style="position:absolute;left:681.3px;top:583.6px" width="14" height="14" viewBox="0 0 14 14"><circle cx="7" cy="7" r="3.4" fill="none" stroke="#9598a1" stroke-width="1"/><path d="M10.70 7.00L11.80 7.00M9.62 9.62L10.39 10.39M7.00 10.70L7.00 11.80M4.38 9.62L3.61 10.39M3.30 7.00L2.20 7.00M4.38 4.38L3.61 3.61M7.00 3.30L7.00 2.20M9.62 4.38L10.39 3.61" stroke="#9598a1" stroke-width="1.15" stroke-linecap="round"/></svg>
<svg style="position:absolute;left:6px;top:559px" width="24" height="14" viewBox="0 0 24 14">
<g fill="#131722" stroke="#131722" stroke-width="1.4" stroke-linejoin="round">
<path d="M2 2h7.6v9.7H5.8V5.4H2z"/><circle cx="13" cy="3.7" r="1.7"/><path d="M16.8 2h4.2l-3.5 9.7h-3.8z"/></g>
<g fill="#e6e6e8"><path d="M2 2h7.6v9.7H5.8V5.4H2z"/><circle cx="13" cy="3.7" r="1.7"/><path d="M16.8 2h4.2l-3.5 9.7h-3.8z"/></g>
</svg>
<div class="t" style="left:31.7px;top:559.2px;font-size:13.6px;font-weight:bold;color:#e6e6e8;transform:scaleX(0.97);text-shadow:0 0 1px #131722,0 0 1.5px #131722,0 0 2px #131722">TradingView</div>
<svg style="position:absolute;left:616px;top:563px" width="36" height="18" viewBox="0 0 36 18">
<circle cx="24.6" cy="9.1" r="7" fill="#161a25"/>
<circle cx="24.6" cy="9.1" r="5.7" fill="#3a1c22" stroke="#c8383a" stroke-width="1.6"/>
<circle cx="20.5" cy="9.1" r="7.3" fill="#161a25"/>
<circle cx="20.5" cy="9.1" r="6" fill="#2a1a22" stroke="#b82e30" stroke-width="1.7"/>
<clipPath id="fc"><circle cx="20.5" cy="9.1" r="4.5"/></clipPath>
<g clip-path="url(#fc)"><rect x="15" y="3" width="11" height="12" fill="#f2eaea"/><rect x="15" y="5.2" width="11" height="1.2" fill="#e07070"/><rect x="15" y="7.3" width="11" height="1.2" fill="#e07070"/><rect x="15" y="10.6" width="11" height="1.8" fill="#d85858"/><rect x="15" y="3" width="6" height="5.6" fill="#4a90e2"/></g>
<circle cx="8.4" cy="9.1" r="7.2" fill="#161a25"/>
<circle cx="8.4" cy="9.1" r="6.1" fill="#1c1530" stroke="#7e3aa8" stroke-width="0.9"/>
<path d="M10.3 4.9L6.2 9.7h2.4l-1.5 3.6 4-4.9H8.7z" fill="#b458e0"/>
</svg>
</body></html>
